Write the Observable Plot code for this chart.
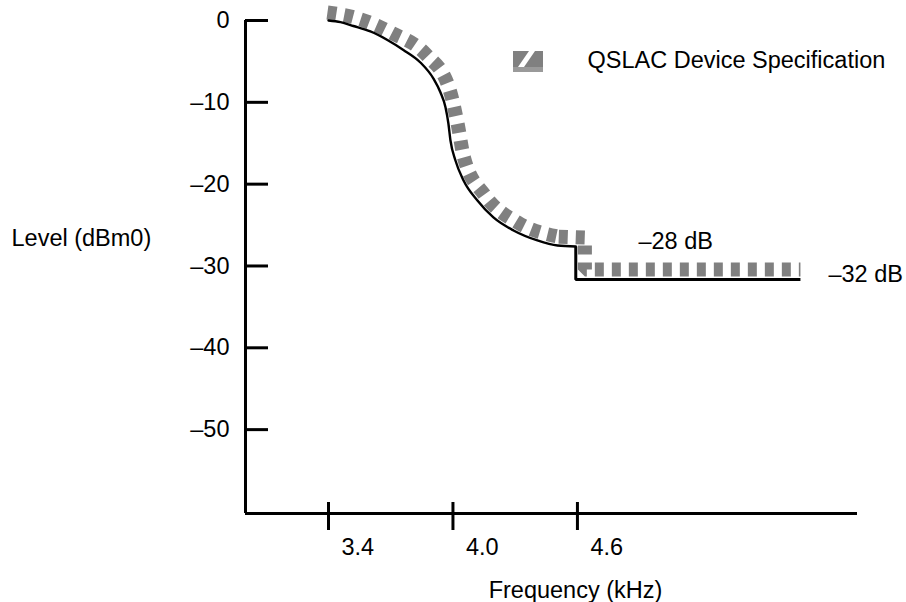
<!DOCTYPE html>
<html><head><meta charset="utf-8">
<script src="https://cdn.jsdelivr.net/npm/d3@7"></script>
<script src="https://cdn.jsdelivr.net/npm/@observablehq/plot@0.6"></script>
<style>
body{margin:0;background:#fff;}
#wrap{position:relative;width:906px;height:602px;font-family:"Liberation Sans",Arial,sans-serif;}
#swatch{position:absolute;left:513px;top:51px;}
</style></head><body>
<div id="wrap"></div>
<script>
// Measured response curve (frequency kHz, level dBm0)
const curveFreq  = [3.4, 3.458, 3.52, 3.602, 3.684, 3.761, 3.843, 3.906, 3.94, 3.964, 3.978, 3.988, 4.012, 4.051, 4.118, 4.195, 4.292, 4.407, 4.504, 4.592];
const curveLevel = [0, -0.2, -0.67, -1.34, -2.38, -3.6, -5.13, -7.1, -8.8, -10.6, -12.59, -14.66, -17.11, -19.55, -22.0, -24.07, -25.66, -26.88, -27.5, -27.62];
const stepFreq  = [4.592, 4.592, 5.675];
const stepLevel = [-27.62, -31.65, -31.65];
// Spec mask (hatched band) centre line
const bandFreq  = [3.395, 3.535, 3.704, 3.872, 3.98, 4.021, 4.053, 4.152, 4.312, 4.51];
const bandLevel = [0.98, 0.3, -1.5, -4.2, -8.15, -12.42, -16.77, -21.31, -24.69, -26.42];
const bandStepFreq  = [4.51, 4.636, 4.636, 5.675];
const bandStepLevel = [-26.42, -26.53, -30.43, -30.43];
// Axes
const xDomain = [3.0, 5.95];
const yDomain = [-60.25, 0];
const xTicks = [3.4, 4.0, 4.6];
const xTickLabels = ["3.4", "4.0", "4.6"];
const yTicks = [0, -10, -20, -30, -40, -50];
const yTickLabels = ["0", "–10", "–20", "–30", "–40", "–50"];
// Annotations
const annLabels = ["–28 dB", "–32 dB"];
const annFreq = [4.894, 5.81];
const annLevel = [-27.0, -30.98];
const legendLabel = "QSLAC Device Specification";
const xTitle = "Frequency (kHz)";
const yTitle = "Level (dBm0)";

const zip = (xs, ys) => xs.map((x, i) => ({x, y: ys[i]}));
const W = 906, H = 602, mL = 245, mR = 49, mT = 20, mB = 89;
const frameW = W - mL - mR, frameH = H - mT - mB;
const font = 23.5;
const ff = '"Liberation Sans", Arial, Helvetica, sans-serif';
const hatch = {stroke: "#808080", strokeWidth: 14, strokeDasharray: "9,8", strokeLinecap: "butt", strokeLinejoin: "miter"};

const chart = Plot.plot({
  width: W, height: H,
  marginLeft: mL, marginRight: mR, marginTop: mT, marginBottom: mB,
  style: {fontFamily: ff, fontSize: font + "px", color: "#000", background: "#fff", overflow: "visible"},
  x: {domain: xDomain},
  y: {domain: yDomain},
  marks: [
    Plot.axisX(xTicks, {tickSize: 0, tickPadding: 25, tickFormat: d => xTickLabels[xTicks.indexOf(d)], textAnchor: "start", dx: 13, fontSize: font, label: null}),
    Plot.axisY(yTicks, {tickSize: 0, tickPadding: 16, tickFormat: d => yTickLabels[yTicks.indexOf(d)], fontSize: font, label: null}),
    Plot.line(zip(bandFreq, bandLevel), {x: "x", y: "y", curve: "monotone-x", ...hatch}),
    Plot.line(zip(bandStepFreq, bandStepLevel), {x: "x", y: "y", ...hatch}),
    Plot.line(zip(curveFreq, curveLevel), {x: "x", y: "y", curve: "monotone-x", stroke: "#000", strokeWidth: 2.4}),
    Plot.line(zip(stepFreq, stepLevel), {x: "x", y: "y", stroke: "#000", strokeWidth: 3, strokeLinejoin: "miter", strokeLinecap: "butt"}),
    Plot.ruleX([xDomain[0]], {strokeWidth: 3}),
    Plot.ruleY([yDomain[0]], {strokeWidth: 3}),
    Plot.tickX(xTicks, {x: d => d, insetTop: frameH - 11, insetBottom: -17, strokeWidth: 3}),
    Plot.tickY(yTicks, {y: d => d, insetRight: frameW - 23, strokeWidth: 3}),
    Plot.text(annLabels, {x: (d, i) => annFreq[i], y: (d, i) => annLevel[i], text: d => d, textAnchor: "start", lineAnchor: "middle", fontSize: font}),
    Plot.text([yTitle], {frameAnchor: "left", textAnchor: "start", lineAnchor: "middle", dx: -234, dy: -28.5, fontSize: font}),
    Plot.text([xTitle], {frameAnchor: "bottom", textAnchor: "middle", lineAnchor: "middle", dx: 24, dy: 77, fontSize: font}),
    Plot.text([legendLabel], {frameAnchor: "top-left", textAnchor: "start", lineAnchor: "middle", dx: 342, dy: 40, fontSize: font})
  ]
});
const wrap = document.getElementById("wrap");
wrap.appendChild(chart);
wrap.insertAdjacentHTML("beforeend",
  '<svg id="swatch" width="31" height="22" viewBox="0 0 31 22">' +
  '<rect x="0" y="0" width="30" height="21" fill="#808080"/>' +
  '<polygon points="16,0 22,0 11,16 5,16" fill="#fff"/>' +
  '<rect x="0" y="16" width="30" height="5" fill="#9a9a9a"/>' +
  '</svg>');
</script>
</body></html>
